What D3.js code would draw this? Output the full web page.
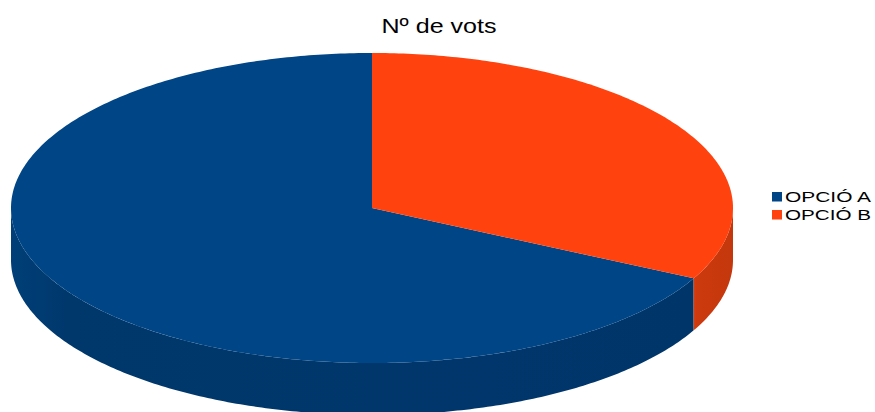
<!DOCTYPE html>
<html><head><meta charset="utf-8">
<script src="https://cdn.jsdelivr.net/npm/d3@7"></script>
<style>body{margin:0;background:#fff}</style>
</head><body>
<script>
// data
const categories = ["OPCIÓ A", "OPCIÓ B"];
const votes = [27, 13];
const colors = ["#004586", "#ff420e"];
const sideColors = [["#003f78", "#00386c", "#00356a"], ["#d63e10", "#cc3a0e", "#c4370c"]];
const title = "Nº de vots";

const width = 875, height = 412;
const cx = 372, cy = 208, rx = 361, ry = 155, depth = 52;

const svg = d3.select("body").append("svg")
  .attr("width", width).attr("height", height)
  .style("font-family", "'Liberation Sans', Arial, sans-serif");

const defs = svg.append("defs");
sideColors.forEach((c, i) => {
  const g = defs.append("linearGradient").attr("id", "side" + i)
    .attr("x1", 0).attr("x2", 1).attr("y1", 0).attr("y2", 0);
  g.append("stop").attr("offset", 0).attr("stop-color", c[0]);
  g.append("stop").attr("offset", 0.08).attr("stop-color", c[1]);
  g.append("stop").attr("offset", 1).attr("stop-color", c[2]);
});

// slices go counter-clockwise from 12 o'clock
const pie = d3.pie().sort(null).startAngle(0).endAngle(-2 * Math.PI);
const arcs = pie(votes);

function px(a) { return cx + rx * Math.sin(a) }
function py(a) { return cy - ry * Math.cos(a) }

function arcPoints(a0, a1, dy) {
  const n = Math.max(2, Math.ceil(Math.abs(a1 - a0) * 80));
  return d3.range(n + 1).map(i => {
    const a = a0 + (a1 - a0) * i / n;
    return [px(a), py(a) + dy];
  });
}

const line = d3.line();

// side walls (only the front half is visible)
const walls = svg.append("g");
arcs.forEach((d, i) => {
  const lo = Math.min(d.startAngle, d.endAngle), hi = Math.max(d.startAngle, d.endAngle);
  for (let k = -2; k <= 1; k++) {
    const s = Math.max(lo, Math.PI / 2 + 2 * Math.PI * k);
    const e = Math.min(hi, 3 * Math.PI / 2 + 2 * Math.PI * k);
    if (s < e) {
      const pts = arcPoints(s, e, 0).concat(arcPoints(e, s, depth));
      walls.append("path").attr("d", line(pts) + "Z")
        .attr("fill", "url(#side" + i + ")");
    }
  }
});

// top faces
svg.append("g").selectAll("path")
  .data(arcs)
  .enter().append("path")
  .attr("d", d => line([[cx, cy]].concat(arcPoints(d.startAngle, d.endAngle, 0))) + "Z")
  .attr("fill", (d, i) => colors[i]);

// title
svg.append("text")
  .attr("x", 439).attr("y", 33)
  .attr("text-anchor", "middle")
  .attr("font-size", 21)
  .attr("textLength", 115).attr("lengthAdjust", "spacingAndGlyphs")
  .attr("fill", "#000")
  .text(title);

// legend
const legend = svg.append("g").selectAll("g")
  .data(categories)
  .enter().append("g")
  .attr("transform", (d, i) => `translate(772,${192 + i * 18})`);

legend.append("rect")
  .attr("width", 10).attr("height", 9.5)
  .attr("fill", (d, i) => colors[i]);

legend.append("text")
  .attr("x", 13).attr("y", 10.3)
  .attr("font-size", 15)
  .attr("textLength", 86).attr("lengthAdjust", "spacingAndGlyphs")
  .attr("fill", "#000")
  .text(d => d);
</script>
</body></html>
